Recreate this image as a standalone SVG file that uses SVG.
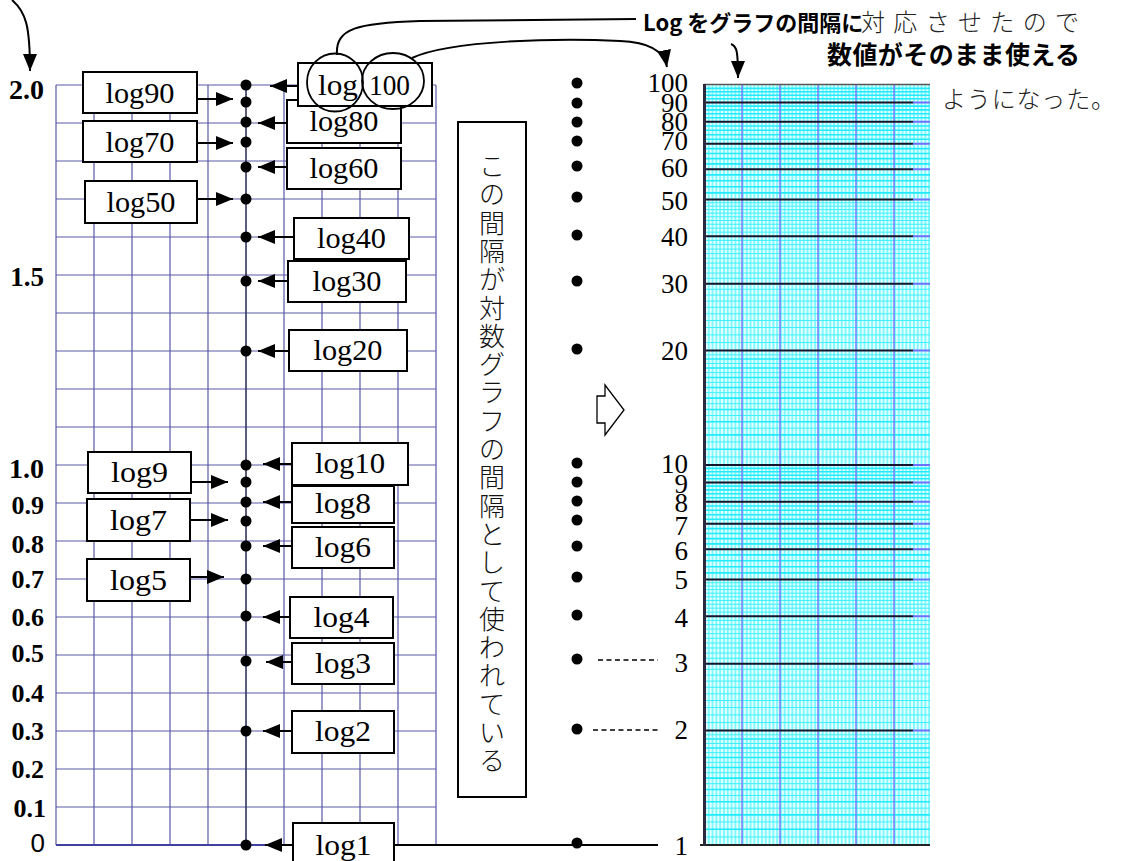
<svg xmlns="http://www.w3.org/2000/svg" xmlns:xlink="http://www.w3.org/1999/xlink" width="1125" height="861" viewBox="0 0 1125 861">
<style>
.grid{stroke:#5a5aa8;stroke-width:1.2;fill:none}
.box{fill:#fff;stroke:#000;stroke-width:2}
.lbl{font-family:'Liberation Serif','Times New Roman',serif;font-size:30px;text-anchor:middle;fill:#000}
.ax{font-family:'Liberation Serif','Times New Roman',serif;font-weight:bold;font-size:26px;text-anchor:end;fill:#000}
.num{font-family:'Liberation Serif','Times New Roman',serif;font-size:27px;text-anchor:end;fill:#000}
.jpb{font-family:'Noto Sans CJK JP',sans-serif;font-weight:bold;fill:#000}
.jpl{font-family:'Noto Sans CJK JP',sans-serif;font-weight:300;fill:#222}
.arr{stroke:#000;stroke-width:2;fill:none;marker-end:url(#ah)}
.ln{stroke:#000;stroke-width:2;fill:none}
.dash{stroke:#000;stroke-width:1.3;fill:none;stroke-dasharray:5 3.5}
.dot{fill:#000}
.fine{stroke:#3ef0ff;stroke-width:1;fill:none}
.med{stroke:#22eaff;stroke-width:1.6;fill:none}
</style>
<defs>
<marker id="ah" viewBox="0 0 17 14" markerWidth="17" markerHeight="14" refX="17" refY="7" orient="auto" markerUnits="userSpaceOnUse">
<path d="M0,0 L17,7 L0,14 z" fill="#000"/>
</marker>
<pattern id="vfine" x="704" y="0" width="3.8" height="20" patternUnits="userSpaceOnUse">
<rect width="3.8" height="20" fill="#e6ffff"/>
<rect width="1.9" height="20" fill="#7ff8ff"/>
</pattern>
<g id="decade">
<path class="fine" d="M704 836.95H930M704 821.93H930M704 808.17H930M704 795.47H930M704 783.68H930M704 772.67H930M704 762.36H930M704 752.64H930M704 743.48H930M704 734.79H930"/>
<path class="med" d="M704 829.27H930M704 814.91H930M704 801.7H930M704 789.47H930M704 778.09H930M704 767.43H930M704 757.43H930M704 748H930M704 739.07H930"/>
<path class="fine" d="M704 722.56H930M704 714.88H930M704 707.54H930M704 700.52H930M704 693.78H930M704 687.31H930M704 681.08H930M704 675.08H930M704 669.29H930M704 658.28H930M704 653.04H930M704 647.97H930M704 643.04H930M704 638.25H930M704 633.6H930M704 629.08H930M704 624.68H930M704 620.4H930M704 612.14H930M704 608.16H930M704 604.28H930M704 600.49H930M704 596.78H930M704 593.15H930M704 589.6H930M704 586.13H930M704 582.72H930"/>
<path class="med" d="M704 572.92H930M704 566.69H930M704 560.69H930M704 554.9H930M704 543.89H930M704 538.65H930M704 533.57H930M704 528.65H930M704 519.21H930M704 514.69H930M704 510.29H930M704 506.01H930M704 497.75H930M704 493.77H930M704 489.89H930M704 486.1H930M704 478.76H930M704 475.21H930M704 471.74H930M704 468.33H930"/>
</g>
</defs>
<rect width="1125" height="861" fill="#fff"/>

<g id="left-grid">
<path class="grid" d="M56 85V845M94 85V845M132 85V845M170 85V845M208 85V845M284 85V845M322 85V845M360 85V845M398 85V845M436 85V845"/>
<path class="grid" d="M56 85H436M56 123H436M56 161H436M56 199H436M56 237H436M56 275H436M56 313H436M56 351H436M56 389H436M56 427H436M56 465H436M56 503H436M56 541H436M56 579H436M56 617H436M56 655H436M56 693H436M56 731H436M56 769H436M56 807H436M56 845H436"/>
<path d="M246 85V845" stroke="#33335a" stroke-width="1.6" fill="none"/>
<path d="M56 845H436" stroke="#4040a0" stroke-width="2" fill="none"/>
</g>

<g id="axis-labels">
<text class="ax" x="44" y="99" style="font-size:28px">2.0</text>
<text class="ax" x="44" y="286" style="font-size:27px">1.5</text>
<text class="ax" x="44" y="478" style="font-size:28px">1.0</text>
<text class="ax" x="44" y="514">0.9</text>
<text class="ax" x="44" y="553">0.8</text>
<text class="ax" x="44" y="588">0.7</text>
<text class="ax" x="44" y="626">0.6</text>
<text class="ax" x="44" y="662">0.5</text>
<text class="ax" x="44" y="702">0.4</text>
<text class="ax" x="44" y="740">0.3</text>
<text class="ax" x="44" y="778">0.2</text>
<text class="ax" x="46" y="817">0.1</text>
<text x="45" y="852" style="font-family:'Liberation Sans',Arial,sans-serif;font-size:26px;text-anchor:end">0</text>
</g>

<g id="log-paper">
<rect x="704" y="85" width="226" height="760" fill="url(#vfine)"/>
<use xlink:href="#decade"/>
<use xlink:href="#decade" transform="translate(0,-380)"/>
<path d="M742 85V845M780 85V845M818 85V845M856 85V845M894 85V845" stroke="#7b7bff" stroke-width="2" opacity="0.75" fill="none"/>
<path d="M913 730.61H930M913 663.69H930M913 616.22H930M913 579.39H930M913 549.3H930M913 523.86H930M913 501.83H930M913 482.39H930M913 465H930M913 350.61H930M913 283.69H930M913 236.22H930M913 199.39H930M913 169.3H930M913 143.86H930M913 121.83H930M913 102.39H930" stroke="#7070ff" stroke-width="2" fill="none"/>
<path d="M704 730.61H913M704 663.69H913M704 616.22H913M704 579.39H913M704 549.3H913M704 523.86H913M704 501.83H913M704 482.39H913M704 465H913M704 350.61H913M704 283.69H913M704 236.22H913M704 199.39H913M704 169.3H913M704 143.86H913M704 121.83H913M704 102.39H913" stroke="#14142a" stroke-width="2" fill="none"/>
<path d="M704 84.5H930" stroke="#555" stroke-width="1.6" fill="none"/>
<path d="M700 845H930" stroke="#222" stroke-width="2.2" fill="none"/>
<path d="M704.5 84V846" stroke="#2a2a40" stroke-width="3" fill="none"/>
</g>

<g id="paper-labels">
<text class="num" x="688" y="92">100</text>
<text class="num" x="688" y="112">90</text>
<text class="num" x="688" y="131">80</text>
<text class="num" x="688" y="150">70</text>
<text class="num" x="688" y="177">60</text>
<text class="num" x="688" y="210">50</text>
<text class="num" x="688" y="246">40</text>
<text class="num" x="688" y="293">30</text>
<text class="num" x="688" y="360">20</text>
<text class="num" x="688" y="473">10</text>
<text class="num" x="688" y="493">9</text>
<text class="num" x="688" y="512">8</text>
<text class="num" x="688" y="535">7</text>
<text class="num" x="688" y="560">6</text>
<text class="num" x="688" y="589">5</text>
<text class="num" x="688" y="627">4</text>
<text class="num" x="688" y="672">3</text>
<text class="num" x="688" y="739">2</text>
<text class="num" x="688" y="855">1</text>
</g>

<g id="connectors">
<path class="arr" d="M197 99H233"/>
<path class="arr" d="M197 143H233"/>
<path class="arr" d="M197 199H233"/>
<path class="arr" d="M191 482H228"/>
<path class="arr" d="M190 520H228"/>
<path class="arr" d="M190 577H224"/>
<path class="arr" d="M298 86H270"/>
<path class="arr" d="M287 123H258"/>
<path class="arr" d="M287 167H258"/>
<path class="arr" d="M294 237H258"/>
<path class="arr" d="M288 281H258"/>
<path class="arr" d="M289 351H258"/>
<path class="arr" d="M292 464H263"/>
<path class="arr" d="M292 502H263"/>
<path class="arr" d="M292 546H263"/>
<path class="arr" d="M290 617H263"/>
<path class="arr" d="M292 662H266"/>
<path class="arr" d="M292 731H263"/>
<path class="arr" d="M293 845H265"/>
<path class="ln" d="M394 845H658"/>
<path class="dash" d="M598 660H658"/>
<path class="dash" d="M593 730H658"/>
<path class="arr" d="M12 0C26 12 30 26 30 71"/>
<path class="ln" d="M337 55C335 28 358 23 420 21L636 19"/>
<path class="arr" d="M412 58C450 40 560 38 620 41C648 42 664 50 667 67"/>
<path class="arr" d="M731 44C737 46 738 52 738 78"/>
</g>

<g id="axis-dots">
<circle class="dot" cx="246" cy="85" r="5.5"/>
<circle class="dot" cx="246" cy="102" r="5.5"/>
<circle class="dot" cx="246" cy="122" r="5.5"/>
<circle class="dot" cx="246" cy="142" r="5.5"/>
<circle class="dot" cx="246" cy="167" r="5.5"/>
<circle class="dot" cx="246" cy="199" r="5.5"/>
<circle class="dot" cx="246" cy="237" r="5.5"/>
<circle class="dot" cx="246" cy="281" r="5.5"/>
<circle class="dot" cx="246" cy="351" r="5.5"/>
<circle class="dot" cx="246" cy="465" r="5.5"/>
<circle class="dot" cx="246" cy="482" r="5.5"/>
<circle class="dot" cx="246" cy="502" r="5.5"/>
<circle class="dot" cx="246" cy="521" r="5.5"/>
<circle class="dot" cx="246" cy="546" r="5.5"/>
<circle class="dot" cx="246" cy="579" r="5.5"/>
<circle class="dot" cx="246" cy="616" r="5.5"/>
<circle class="dot" cx="246" cy="661" r="5.5"/>
<circle class="dot" cx="246" cy="731" r="5.5"/>
<circle class="dot" cx="246" cy="845" r="5.5"/>
</g>

<g id="middle-dots">
<circle class="dot" cx="577" cy="83" r="5.5"/>
<circle class="dot" cx="577" cy="103" r="5.5"/>
<circle class="dot" cx="577" cy="122" r="5.5"/>
<circle class="dot" cx="577" cy="141" r="5.5"/>
<circle class="dot" cx="577" cy="166" r="5.5"/>
<circle class="dot" cx="577" cy="197" r="5.5"/>
<circle class="dot" cx="577" cy="235" r="5.5"/>
<circle class="dot" cx="577" cy="281" r="5.5"/>
<circle class="dot" cx="577" cy="349" r="5.5"/>
<circle class="dot" cx="577" cy="463" r="5.5"/>
<circle class="dot" cx="577" cy="482" r="5.5"/>
<circle class="dot" cx="577" cy="501" r="5.5"/>
<circle class="dot" cx="577" cy="520" r="5.5"/>
<circle class="dot" cx="577" cy="546" r="5.5"/>
<circle class="dot" cx="577" cy="577" r="5.5"/>
<circle class="dot" cx="577" cy="615" r="5.5"/>
<circle class="dot" cx="577" cy="659" r="5.5"/>
<circle class="dot" cx="577" cy="729" r="5.5"/>
<circle class="dot" cx="577" cy="843" r="5.5"/>
</g>

<g id="box-log90"><rect class="box" x="83" y="72" width="114" height="41"/><text class="lbl" x="140" y="103" textLength="69" lengthAdjust="spacingAndGlyphs">log90</text></g>
<g id="box-log70"><rect class="box" x="83" y="121" width="114" height="41"/><text class="lbl" x="140" y="152" textLength="69" lengthAdjust="spacingAndGlyphs">log70</text></g>
<g id="box-log50"><rect class="box" x="85" y="181" width="112" height="42"/><text class="lbl" x="141" y="212" textLength="69" lengthAdjust="spacingAndGlyphs">log50</text></g>
<g id="box-log9"><rect class="box" x="88" y="452" width="103" height="41"/><text class="lbl" x="139.5" y="482" textLength="57" lengthAdjust="spacingAndGlyphs">log9</text></g>
<g id="box-log7"><rect class="box" x="87" y="499" width="103" height="42"/><text class="lbl" x="138.5" y="530" textLength="57" lengthAdjust="spacingAndGlyphs">log7</text></g>
<g id="box-log5"><rect class="box" x="87" y="559" width="103" height="42"/><text class="lbl" x="138.5" y="590" textLength="57" lengthAdjust="spacingAndGlyphs">log5</text></g>

<g id="box-log80"><rect class="box" x="287" y="100" width="114" height="43"/><text class="lbl" x="344" y="131" textLength="69" lengthAdjust="spacingAndGlyphs">log80</text></g>
<g id="box-log100"><rect class="box" x="298" y="63" width="134" height="43"/><text class="lbl" y="95" style="text-anchor:start"><tspan x="318" textLength="40" lengthAdjust="spacingAndGlyphs">log</tspan><tspan x="369" textLength="41" lengthAdjust="spacingAndGlyphs">100</tspan></text>
<ellipse cx="335" cy="82.5" rx="28" ry="29" fill="none" stroke="#000" stroke-width="1.8"/>
<ellipse cx="393" cy="81" rx="31" ry="28" fill="none" stroke="#000" stroke-width="1.8"/></g>
<g id="box-log60"><rect class="box" x="287" y="148" width="114" height="41"/><text class="lbl" x="344" y="178" textLength="69" lengthAdjust="spacingAndGlyphs">log60</text></g>
<g id="box-log40"><rect class="box" x="294" y="218" width="115" height="41"/><text class="lbl" x="351.5" y="248" textLength="69" lengthAdjust="spacingAndGlyphs">log40</text></g>
<g id="box-log30"><rect class="box" x="288" y="261" width="118" height="41"/><text class="lbl" x="347" y="291" textLength="69" lengthAdjust="spacingAndGlyphs">log30</text></g>
<g id="box-log20"><rect class="box" x="289" y="330" width="118" height="41"/><text class="lbl" x="348" y="360" textLength="69" lengthAdjust="spacingAndGlyphs">log20</text></g>
<g id="box-log8"><rect class="box" x="292" y="486" width="102" height="37"/><text class="lbl" x="343" y="513" textLength="56" lengthAdjust="spacingAndGlyphs">log8</text></g>
<g id="box-log10"><rect class="box" x="292" y="443" width="116" height="42"/><text class="lbl" x="350" y="473" textLength="70" lengthAdjust="spacingAndGlyphs">log10</text></g>
<g id="box-log6"><rect class="box" x="292" y="527" width="102" height="41"/><text class="lbl" x="343" y="557" textLength="56" lengthAdjust="spacingAndGlyphs">log6</text></g>
<g id="box-log4"><rect class="box" x="290" y="597" width="103" height="41"/><text class="lbl" x="341.5" y="627" textLength="56" lengthAdjust="spacingAndGlyphs">log4</text></g>
<g id="box-log3"><rect class="box" x="292" y="643" width="102" height="41"/><text class="lbl" x="343" y="673" textLength="56" lengthAdjust="spacingAndGlyphs">log3</text></g>
<g id="box-log2"><rect class="box" x="292" y="711" width="102" height="42"/><text class="lbl" x="343" y="741" textLength="56" lengthAdjust="spacingAndGlyphs">log2</text></g>
<g id="box-log1"><rect class="box" x="293" y="823" width="101" height="44"/><text class="lbl" x="343.5" y="855" textLength="56" lengthAdjust="spacingAndGlyphs">log1</text></g>

<g id="vertical-note">
<rect class="box" x="458" y="122" width="68" height="675"/>
<text class="jpl" style="font-size:26px;text-anchor:middle;fill:#111">
<tspan x="492" y="176">こ</tspan><tspan x="492" y="204.3">の</tspan><tspan x="492" y="232.6">間</tspan><tspan x="492" y="260.9">隔</tspan><tspan x="492" y="289.2">が</tspan><tspan x="492" y="317.5">対</tspan><tspan x="492" y="345.8">数</tspan><tspan x="492" y="374.1">グ</tspan><tspan x="492" y="402.4">ラ</tspan><tspan x="492" y="430.7">フ</tspan><tspan x="492" y="459">の</tspan><tspan x="492" y="487.3">間</tspan><tspan x="492" y="515.6">隔</tspan><tspan x="492" y="543.9">と</tspan><tspan x="492" y="572.2">し</tspan><tspan x="492" y="600.5">て</tspan><tspan x="492" y="628.8">使</tspan><tspan x="492" y="657.1">わ</tspan><tspan x="492" y="685.4">れ</tspan><tspan x="492" y="713.7">て</tspan><tspan x="492" y="742">い</tspan><tspan x="492" y="770.3">る</tspan>
</text>
</g>

<g id="hollow-arrow">
<polygon points="597,396 605,396 605,385 624,410 605,435 605,423 597,423" fill="#fff" stroke="#000" stroke-width="1.3"/>
</g>

<g id="top-note">
<text class="jpb" x="643" y="31" style="font-size:22px">Log をグラフの間隔に</text>
<text class="jpl" x="861" y="31" style="font-size:24px" textLength="218" lengthAdjust="spacing">対応させたので</text>
<text class="jpb" x="827" y="64" style="font-size:25px" textLength="253" lengthAdjust="spacing">数値がそのまま使える</text>
<text class="jpl" x="942" y="108" style="font-size:24px" textLength="173" lengthAdjust="spacing">ようになった。</text>
</g>
</svg>
